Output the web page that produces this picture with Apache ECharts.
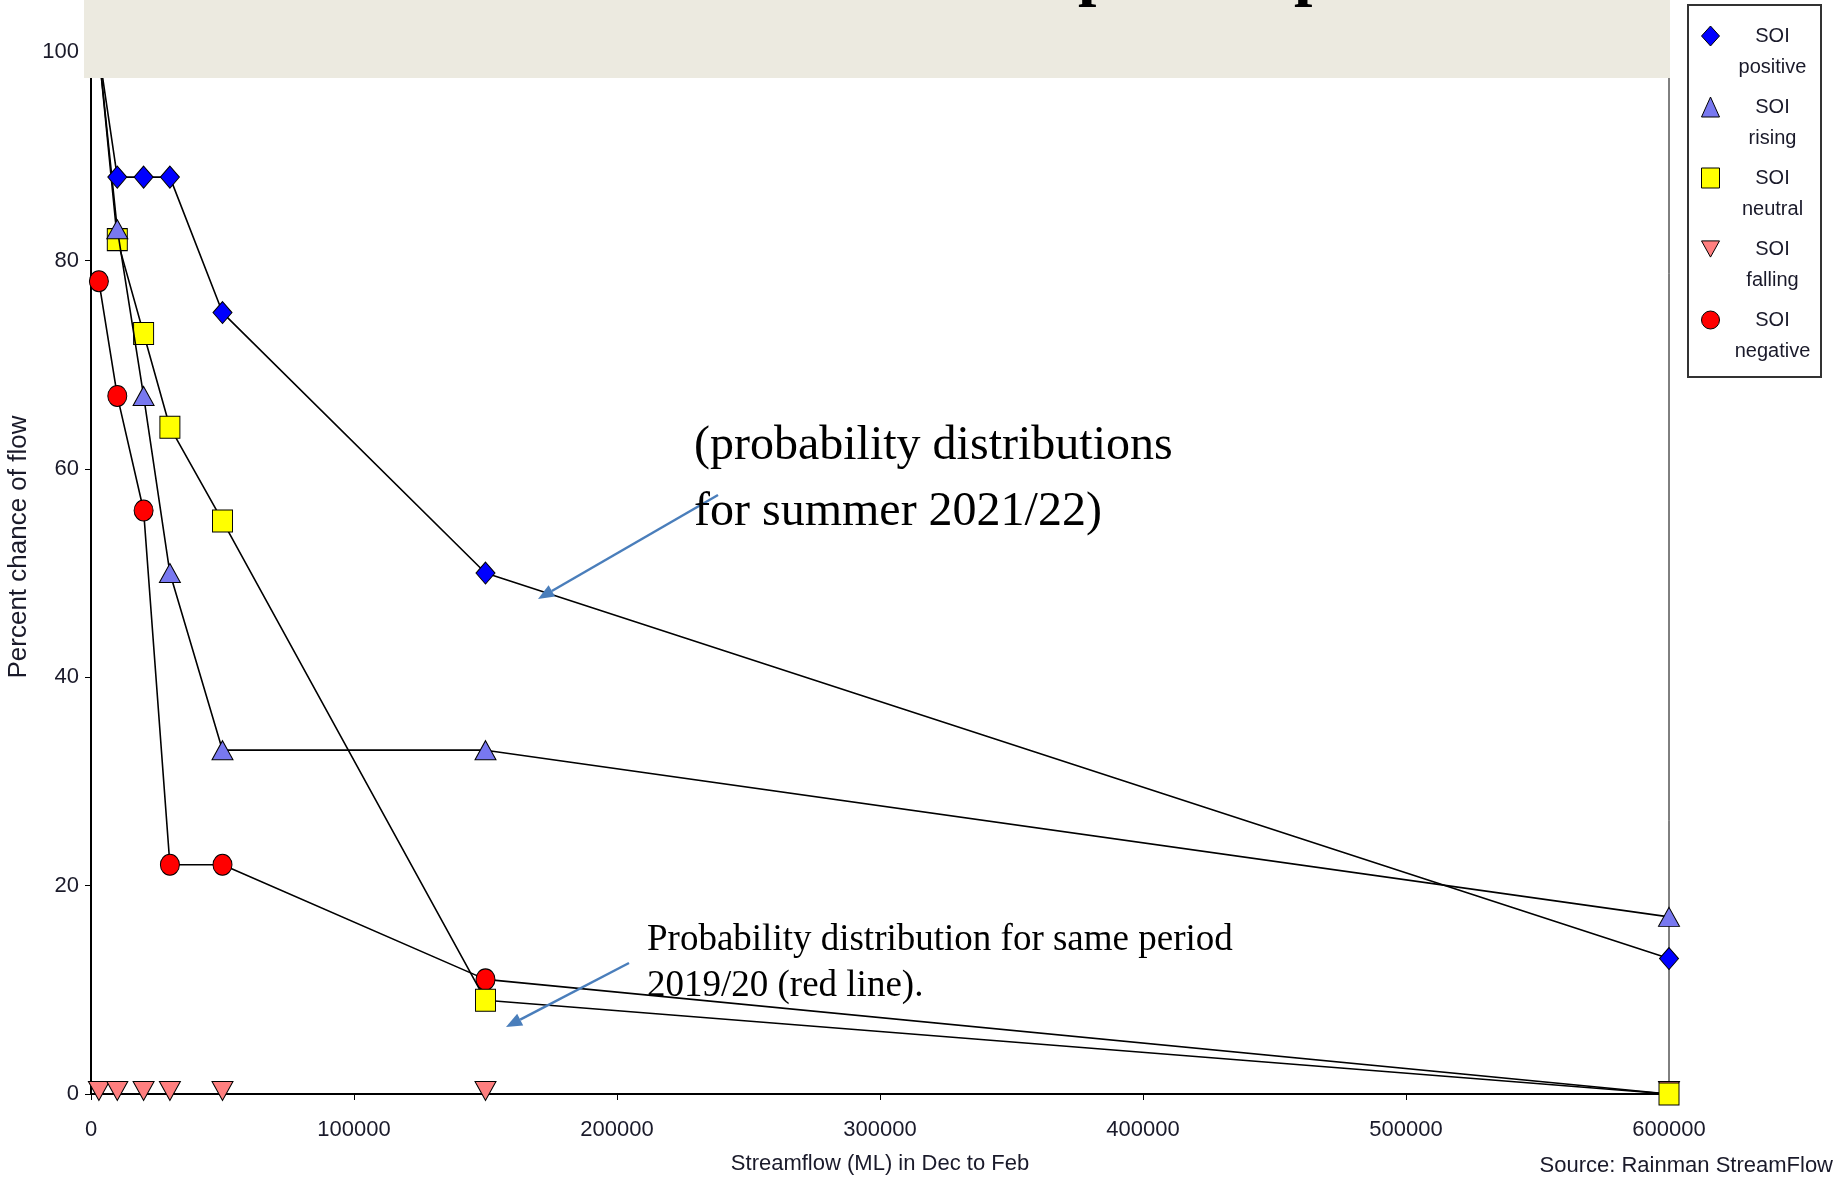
<!DOCTYPE html>
<html><head><meta charset="utf-8">
<script src="https://cdn.jsdelivr.net/npm/echarts@6/dist/echarts.min.js"></script>
<style>html,body{margin:0;padding:0;background:#fff}#c{width:1834px;height:1178px}</style>
</head><body><div id="c"></div>
<script>
// ---- data ----
const flowML = [3000, 10000, 20000, 30000, 50000, 150000, 600000];
const soiPositive = [100, 88, 88, 88, 75, 50, 13];
const soiRising   = [100, 83, 67, 50, 33, 33, 17];
const soiNeutral  = [100, 82, 73, 64, 55, 9, 0];
const soiFalling  = [0, 0, 0, 0, 0, 0, 0];
const soiNegative = [78, 67, 56, 22, 22, 11, 0];
const seriesNames = ['SOI positive', 'SOI rising', 'SOI neutral', 'SOI falling', 'SOI negative'];
const yTickValues = [0, 20, 40, 60, 80, 100];

const SANS = "'Liberation Sans Narrow','Arial Narrow','Liberation Sans',Arial,sans-serif";
const SERIF = "'Liberation Serif','Times New Roman',serif";
const DOWN_TRI = 'path://M0,0 L20,0 L10,18 Z';
const TXT = '#1a1a2a';

function mk(name, vals, symbol, size, color, z, offset) {
  return {
    name, type: 'line', z,
    data: flowML.map((x, i) => [x, vals[i]]),
    symbol, symbolSize: size, symbolOffset: offset || [0, 0],
    showAllSymbol: true,
    lineStyle: { color: '#000', width: 1.6 },
    itemStyle: { color, borderColor: '#000', borderWidth: 1 },
    emphasis: { disabled: true }
  };
}

const chart = echarts.init(document.getElementById('c'), null, { renderer: 'canvas' });

function arrow(x1, y1, x2, y2, color) {
  const dx = x2 - x1, dy = y2 - y1, L = Math.hypot(dx, dy);
  const ux = dx / L, uy = dy / L, hl = 16, hw = 6.5;
  const bx = x2 - ux * hl, by = y2 - uy * hl, nx = -uy, ny = ux;
  return [
    { type: 'line', z: 50, shape: { x1, y1, x2: bx, y2: by }, style: { stroke: color, lineWidth: 2.5 } },
    { type: 'polygon', z: 50, shape: { points: [[x2, y2], [bx + nx * hw, by + ny * hw], [bx - nx * hw, by - ny * hw]] }, style: { fill: color } }
  ];
}

chart.setOption({
  animation: false,
  backgroundColor: '#fff',
  grid: { left: 91, right: 165, top: 0, bottom: 84, show: true, borderColor: '#000', borderWidth: 1,
          containLabel: false, outerBoundsMode: 'none' },
  xAxis: {
    type: 'value', min: 0, max: 600000, interval: 100000,
    name: 'Streamflow (ML) in Dec to Feb', nameLocation: 'middle', nameGap: 59,
    nameTextStyle: { fontFamily: SANS, fontSize: 22, color: TXT },
    axisLine: { show: true, onZero: false, lineStyle: { color: '#000', width: 2 } },
    axisTick: { show: true, length: 6, lineStyle: { color: '#000', width: 1 } },
    axisLabel: { fontFamily: SANS, fontSize: 22, color: TXT, margin: 25, formatter: v => String(v) },
    splitLine: { show: false }
  },
  yAxis: {
    type: 'value', min: 0, max: 105, interval: 20,
    name: 'Percent chance of flow', nameLocation: 'middle', nameGap: 54,
    nameTextStyle: { fontFamily: "'Liberation Sans',Arial,sans-serif", fontSize: 26, color: TXT },
    axisLine: { show: true, lineStyle: { color: '#000', width: 2 } },
    axisTick: { show: true, length: 6, lineStyle: { color: '#000', width: 1 } },
    axisLabel: { fontFamily: SANS, fontSize: 22, color: TXT, margin: 12,
      formatter: v => (yTickValues.indexOf(v) >= 0 ? String(v) : '') },
    splitLine: { show: false }
  },
  legend: {
    orient: 'vertical', left: 1701, top: -10.5, padding: 0, itemGap: -22,
    itemWidth: 18, itemHeight: 20, selectedMode: false,
    data: [
      { name: seriesNames[0], icon: 'diamond' },
      { name: seriesNames[1], icon: 'triangle' },
      { name: seriesNames[2], icon: 'rect' },
      { name: seriesNames[3], icon: DOWN_TRI },
      { name: seriesNames[4], icon: 'circle' }
    ],
    itemStyle: { borderColor: '#000', borderWidth: 1 },
    formatter: n => { const p = n.split(' '); return '{t|' + p[0] + '}\n{t|' + p[1] + '}'; },
    textStyle: {
      fontFamily: SANS, fontSize: 20, lineHeight: 31, color: TXT, width: 96,
      padding: [31, 0, 0, 0],
      rich: { t: { align: 'center', fontFamily: SANS, fontSize: 20, lineHeight: 31, color: TXT } }
    }
  },
  series: [
    mk(seriesNames[3], soiFalling, DOWN_TRI, [21, 19], '#FF7F7F', 2, [0, -3]),
    mk(seriesNames[4], soiNegative, 'circle', [19, 21], '#FF0000', 3),
    mk(seriesNames[2], soiNeutral, 'rect', [20, 22], '#FFFF00', 4),
    mk(seriesNames[1], soiRising, 'triangle', [21, 19], '#7878F0', 5),
    mk(seriesNames[0], soiPositive, 'diamond', [19, 22], '#0000FF', 6)
  ],
  graphic: [
    { type: 'rect', z: 100, shape: { x: 84, y: 0, width: 1586, height: 78 }, style: { fill: '#ECEAE0' } },
    { type: 'text', z: 101, style: { text: 'p', x: 1078, y: -24, font: 'bold 66px ' + SERIF, fill: '#000', verticalAlign: 'middle' } },
    { type: 'text', z: 101, style: { text: 'p', x: 1294, y: -24, font: 'bold 66px ' + SERIF, fill: '#000', verticalAlign: 'middle' } },
    { type: 'rect', z: 0, shape: { x: 1688, y: 5, width: 133, height: 372 }, style: { fill: '#fff', stroke: '#333', lineWidth: 2 } },
    { type: 'text', z: 60, style: { text: '(probability distributions\nfor summer 2021/22)', x: 694, y: 413, font: '48px ' + SERIF, lineHeight: 66, fill: '#000', verticalAlign: 'top' } },
    { type: 'text', z: 60, style: { text: 'Probability distribution for same period\n2019/20 (red line).', x: 647, y: 918, font: '37px ' + SERIF, lineHeight: 45.5, fill: '#000', verticalAlign: 'top' } },
    { type: 'text', z: 60, style: { text: 'Source: Rainman StreamFlow', x: 1833, y: 1166, font: '22px ' + SANS, fill: TXT, align: 'right', verticalAlign: 'middle' } }
  ].concat(arrow(718, 495, 538, 599, '#4A7EBB'), arrow(629, 963, 506, 1027, '#4A7EBB'))
});
</script></body></html>
